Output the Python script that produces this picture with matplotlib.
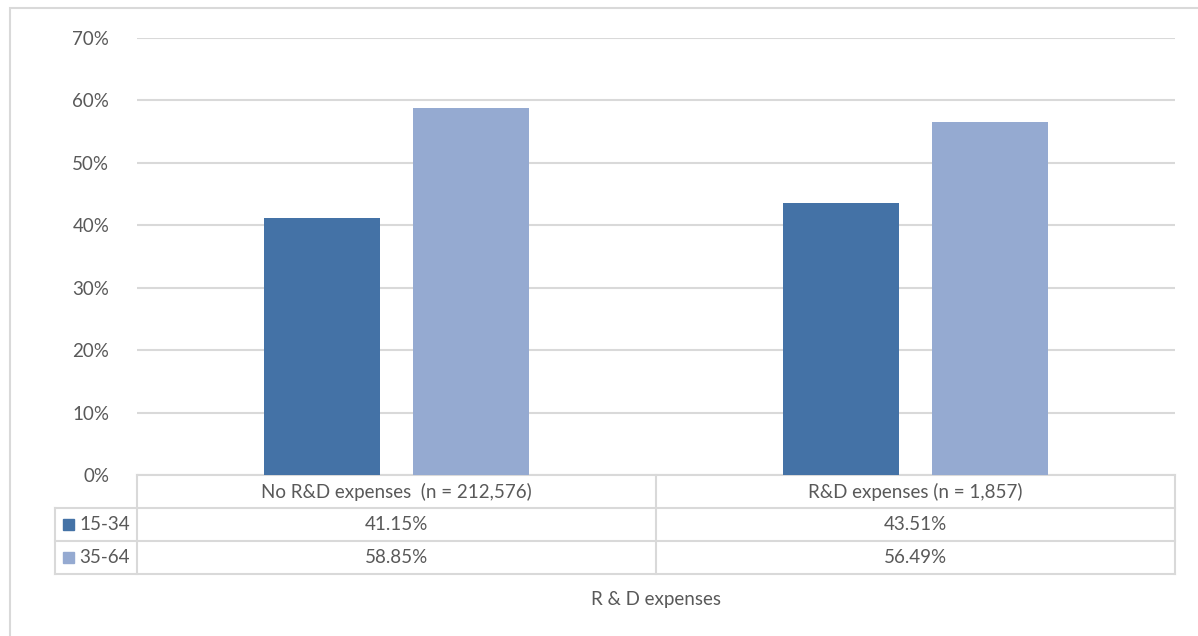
import matplotlib.pyplot as plt
from matplotlib.patches import Rectangle

plt.rcParams['font.family'] = ['Lato', 'DejaVu Sans']

categories = ['No R&D expenses  (n = 212,576)', 'R&D expenses (n = 1,857)']
series_names = ['15-34', '35-64']
young = [41.15, 43.51]
older = [58.85, 56.49]
colors = ['#4472a6', '#95aad1']
grid_c = '#d9d9d9'
txt_c = '#595959'

fig = plt.figure(figsize=(11.98, 6.36), dpi=100)
# outer chart border (extends past the right/bottom edges)
fig.patches.append(Rectangle((10 / 1198, -0.1), 1.2, 1 - 8 / 636 + 0.1,
                             transform=fig.transFigure, fill=False,
                             edgecolor=grid_c, linewidth=1.5))

ax = fig.add_axes([137 / 1198, 1 - 475 / 636, 1038 / 1198, 437 / 636])
n = len(categories)
xs = [i + 0.5 for i in range(n)]
w = 0.2235
off = 0.1426
for vals, c, sgn in [(young, colors[0], -1), (older, colors[1], 1)]:
    ax.bar([x + sgn * off for x in xs], [v / 100 for v in vals], width=w, color=c, zorder=3)

fs = 13.5
ax.set_xlim(0, n)
ax.set_ylim(0, 0.7)
ax.set_yticks([i / 10 for i in range(8)])
ax.set_yticklabels([f'{i * 10}%' for i in range(8)], fontsize=fs, color=txt_c)
ax.tick_params(axis='y', length=0, pad=20)
ax.set_xticks([])
ax.grid(axis='y', color=grid_c, linewidth=1.5, zorder=0)
for s in ax.spines.values():
    s.set_visible(False)

# data table under the plot
rh = 33 / 437
left = -82 / 1038
lk = dict(color=grid_c, linewidth=1.5, clip_on=False, transform=ax.transAxes)
ax.plot([0, 1], [0, 0], **lk)
for k in range(1, 4):
    ax.plot([left, 1], [-k * rh, -k * rh], **lk)
ax.plot([0, 0], [0, -3 * rh], **lk)
ax.plot([left, left], [-rh, -3 * rh], **lk)
for i in range(1, n + 1):
    ax.plot([i / n, i / n], [0, -3 * rh], **lk)

for i, cat in enumerate(categories):
    ax.text((i + 0.5) / n, -0.5 * rh, cat, transform=ax.transAxes, ha='center',
            va='center', fontsize=fs, color=txt_c)
for r, (name, vals, c) in enumerate(zip(series_names, [young, older], colors)):
    yy = -(r + 1.5) * rh
    ax.add_patch(Rectangle((-74 / 1038, yy - 5.5 / 437), 11 / 1038, 11 / 437,
                           transform=ax.transAxes, color=c, clip_on=False))
    ax.text(-58 / 1038, yy, name, transform=ax.transAxes, ha='left', va='center',
            fontsize=fs, color=txt_c)
    for i, v in enumerate(vals):
        ax.text((i + 0.5) / n, yy, f'{v:.2f}%', transform=ax.transAxes, ha='center',
                va='center', fontsize=fs, color=txt_c)

fig.text(656 / 1198, 1 - 599 / 636, 'R & D expenses', ha='center', va='center',
         fontsize=fs, color=txt_c)

fig.savefig('out.png', dpi=100)
